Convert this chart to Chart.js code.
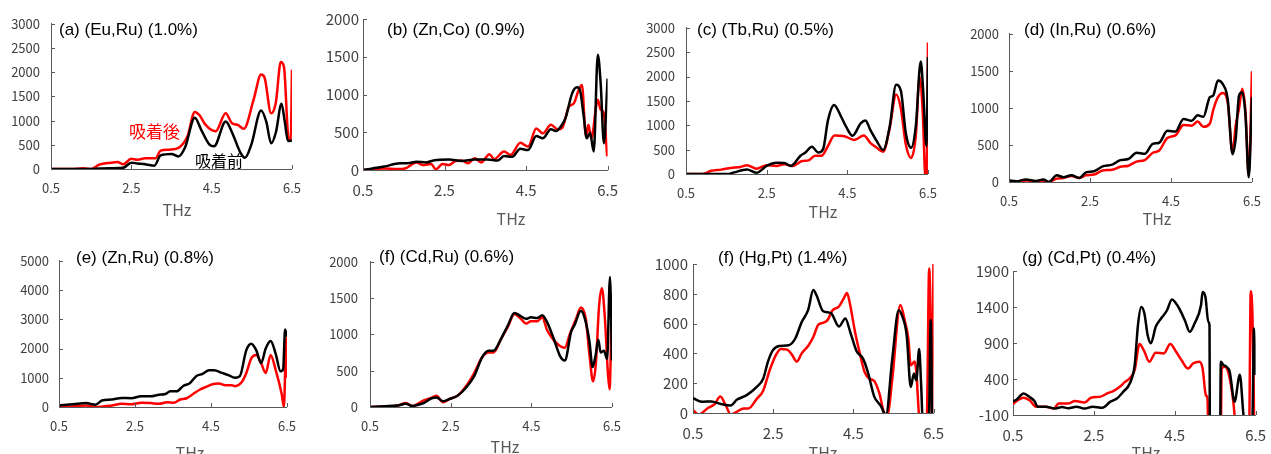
<!DOCTYPE html>
<html>
<head>
<meta charset="utf-8">
<script src="https://cdn.jsdelivr.net/npm/chart.js@4.4.1/dist/chart.umd.min.js"></script>
<style>
    body { margin: 0; background: #fff; width: 1271px; height: 454px; overflow: hidden; position: relative; }
    canvas { position: absolute; }
    .lbl { position: absolute; white-space: nowrap; line-height: 1; transform: translateY(-50%); }
    .title { font-family: "Liberation Sans", Arial, sans-serif; font-size: 17px; color: #000; }
    .thz { font-family: "Noto Sans CJK JP", sans-serif; font-size: 16px; color: #595959; transform: translate(-50%, -50%); }
    .note { font-family: "Noto Sans CJK JP", sans-serif; }
</style>
</head>
<body>
<script>
// x axis (THz) ticks shared by every panel
const xTicks = [0.5, 2.5, 4.5, 6.5];

const titles = ['(a) (Eu,Ru) (1.0%)', '(b) (Zn,Co) (0.9%)', '(c) (Tb,Ru) (0.5%)', '(d) (In,Ru) (0.6%)',
    '(e) (Zn,Ru) (0.8%)', '(f) (Cd,Ru) (0.6%)', '(f) (Hg,Pt) (1.4%)', '(g) (Cd,Pt) (0.4%)'];

const yTicksA = [0, 500, 1000, 1500, 2000, 2500, 3000];
const yTicksB = [0, 500, 1000, 1500, 2000];
const yTicksE = [0, 1000, 2000, 3000, 4000, 5000];
const yTicksG = [0, 200, 400, 600, 800, 1000];
const yTicksH = [-100, 400, 900, 1400, 1900];

// [THz, value]  before = 吸着前 (black), after = 吸着後 (red)
const euRuBefore = [[0.5,0],[1.5,0],[1.7,10],[2.0,15],[2.3,25],[2.5,130],[2.65,115],[2.87,95],[3.07,65],[3.23,280],[3.5,310],[3.67,260],[3.84,450],[4.08,1060],[4.24,810],[4.44,510],[4.56,470],[4.85,980],[5.01,750],[5.21,350],[5.33,230],[5.49,510],[5.73,1210],[5.86,980],[5.98,530],[6.1,760],[6.24,1350],[6.32,980],[6.4,580],[6.5,590]];
const euRuAfter = [[0.5,0],[1.0,0],[1.3,15],[1.5,0],[1.7,90],[2.0,130],[2.15,145],[2.3,100],[2.5,210],[2.65,190],[2.85,220],[3.1,220],[3.23,380],[3.45,400],[3.7,450],[3.9,680],[4.08,1180],[4.2,1110],[4.35,910],[4.6,780],[4.85,1150],[5.0,950],[5.15,910],[5.3,830],[5.55,1450],[5.73,1950],[5.82,1880],[5.98,1150],[6.1,1380],[6.22,2210],[6.3,2110],[6.42,610],[6.47,620],[6.5,2050]];

const znCoBefore = [[0.5,0],[1.02,45],[1.41,90],[1.6,90],[1.81,110],[2.05,100],[2.25,130],[2.61,140],[2.92,120],[3.24,140],[3.56,140],[3.8,125],[3.96,185],[4.16,175],[4.36,280],[4.55,265],[4.75,450],[4.91,420],[5.11,540],[5.23,515],[5.35,575],[5.47,690],[5.63,1015],[5.75,1095],[5.83,1040],[5.91,730],[5.99,420],[6.07,495],[6.16,245],[6.26,1525],[6.33,1150],[6.41,355],[6.5,1210]];
const znCoAfter = [[0.5,0],[1.02,20],[1.33,13],[1.53,20],[1.81,100],[1.97,65],[2.17,80],[2.29,10],[2.45,80],[2.61,65],[2.77,120],[2.92,125],[3.08,90],[3.24,155],[3.4,100],[3.6,210],[3.72,145],[3.96,245],[4.12,200],[4.36,360],[4.55,310],[4.75,550],[4.91,485],[5.11,600],[5.27,540],[5.39,560],[5.55,840],[5.67,880],[5.79,1060],[5.87,1125],[5.97,450],[6.03,600],[6.1,420],[6.26,930],[6.33,800],[6.41,750],[6.49,180]];

const tbRuBefore = [[0.5,0],[1.53,0],[1.69,33],[2.01,90],[2.25,25],[2.5,165],[2.74,230],[2.94,225],[3.1,165],[3.34,375],[3.46,440],[3.62,560],[3.78,440],[3.9,510],[4.02,1100],[4.17,1415],[4.35,1170],[4.47,970],[4.63,785],[4.83,1040],[4.95,1100],[5.07,905],[5.23,675],[5.39,495],[5.55,970],[5.71,1830],[5.83,1700],[5.95,840],[6.08,540],[6.2,1000],[6.32,2310],[6.38,1730],[6.46,575],[6.5,2400]];
const tbRuAfter = [[0.5,0],[0.9,0],[1.13,65],[1.37,90],[1.61,125],[1.85,145],[2.01,180],[2.25,110],[2.5,180],[2.74,165],[2.94,200],[3.14,165],[3.38,265],[3.54,280],[3.7,375],[3.86,375],[4.02,575],[4.18,790],[4.43,775],[4.67,700],[4.91,790],[5.07,640],[5.23,540],[5.39,455],[5.55,940],[5.71,1630],[5.83,1335],[5.95,610],[6.08,330],[6.2,805],[6.29,1995],[6.37,1270],[6.44,-100],[6.47,-100],[6.5,2700]];

const inRuBefore = [[0.5,20],[0.68,10],[0.92,35],[1.16,15],[1.36,35],[1.48,0],[1.68,90],[1.84,65],[2.04,90],[2.24,55],[2.4,130],[2.6,145],[2.81,210],[3.05,235],[3.25,295],[3.45,310],[3.65,395],[3.85,380],[4.05,515],[4.21,530],[4.41,690],[4.61,680],[4.81,850],[5.01,825],[5.16,900],[5.3,880],[5.46,1145],[5.54,1165],[5.66,1370],[5.78,1320],[5.9,1120],[6.02,375],[6.1,595],[6.18,1165],[6.26,1210],[6.34,900],[6.42,65],[6.5,1145]];
const inRuAfter = [[0.5,20],[0.68,0],[0.92,20],[1.16,10],[1.48,0],[1.68,45],[1.84,55],[2.04,80],[2.24,55],[2.4,90],[2.6,100],[2.81,155],[3.05,165],[3.25,205],[3.45,220],[3.65,275],[3.85,295],[4.05,395],[4.21,425],[4.41,595],[4.61,630],[4.81,770],[5.01,760],[5.16,815],[5.3,745],[5.46,790],[5.54,965],[5.66,1145],[5.78,1200],[5.9,1075],[6.02,395],[6.1,770],[6.18,990],[6.26,1260],[6.34,945],[6.42,90],[6.5,1495]];

const znRuBefore = [[0.5,55],[0.87,90],[1.21,135],[1.46,80],[1.63,220],[1.89,255],[2.15,310],[2.4,300],[2.66,365],[2.91,365],[3.13,420],[3.3,445],[3.43,535],[3.6,535],[3.77,720],[3.94,810],[4.11,1055],[4.28,1135],[4.45,1255],[4.58,1255],[4.79,1165],[4.96,1090],[5.13,1000],[5.26,1055],[5.43,1945],[5.56,2165],[5.69,1945],[5.82,1500],[5.94,2000],[6.07,2255],[6.2,1835],[6.33,1220],[6.4,1300],[6.45,2650],[6.5,2400]];
const znRuAfter = [[0.5,0],[0.87,20],[1.21,55],[1.46,0],[1.89,55],[2.15,110],[2.4,90],[2.66,145],[2.91,135],[3.13,110],[3.35,165],[3.52,145],[3.69,255],[3.86,300],[4.03,445],[4.2,590],[4.37,690],[4.54,780],[4.71,800],[4.88,745],[5.05,745],[5.13,710],[5.3,835],[5.43,1165],[5.56,1665],[5.69,1780],[5.82,1500],[5.94,1165],[6.07,1780],[6.2,1280],[6.36,450],[6.42,0],[6.48,2350],[6.5,1000]];

const cdRuBefore = [[0.5,0],[0.86,10],[1.18,20],[1.39,45],[1.55,15],[1.83,55],[2.03,120],[2.15,130],[2.31,80],[2.47,110],[2.67,155],[2.88,265],[3.08,420],[3.28,685],[3.44,775],[3.56,775],[3.76,950],[3.92,1125],[4.08,1295],[4.24,1250],[4.37,1215],[4.49,1235],[4.65,1225],[4.77,1265],[4.89,1170],[5.05,950],[5.21,705],[5.33,640],[5.49,1040],[5.57,1125],[5.73,1325],[5.85,1170],[5.94,905],[6.02,550],[6.1,730],[6.16,925],[6.22,750],[6.3,775],[6.38,660],[6.45,1790],[6.5,640]];
const cdRuAfter = [[0.5,0],[1.18,20],[1.39,55],[1.55,15],[1.83,90],[2.03,130],[2.15,155],[2.31,65],[2.47,110],[2.67,155],[2.88,285],[3.08,465],[3.28,685],[3.44,750],[3.56,750],[3.76,950],[3.92,1105],[4.08,1280],[4.24,1215],[4.37,1150],[4.49,1180],[4.65,1180],[4.77,1235],[4.89,1060],[5.05,925],[5.21,840],[5.33,815],[5.45,995],[5.61,1215],[5.73,1370],[5.85,1215],[5.94,730],[6.03,355],[6.1,595],[6.18,1390],[6.25,1635],[6.32,1260],[6.4,465],[6.44,245],[6.5,1545]];

const hgPtBefore = [[0.5,100],[0.72,75],[0.96,78],[1.2,60],[1.44,50],[1.6,90],[1.84,120],[2.09,175],[2.25,230],[2.37,345],[2.49,420],[2.65,450],[2.89,455],[3.05,500],[3.21,610],[3.37,690],[3.5,825],[3.58,790],[3.74,685],[3.94,670],[4.14,580],[4.3,635],[4.42,545],[4.58,415],[4.74,365],[4.86,275],[5.02,110],[5.18,50],[5.31,-15],[5.47,365],[5.63,690],[5.71,655],[5.83,520],[5.93,175],[6.01,265],[6.07,220],[6.14,430],[6.19,185],[6.23,-50],[6.38,-50],[6.43,625],[6.47,-50],[6.5,-50]];
const hgPtAfter = [[0.5,20],[0.64,-10],[0.88,35],[1.04,60],[1.18,110],[1.32,50],[1.44,-10],[1.6,10],[1.76,30],[1.88,30],[2.09,95],[2.25,150],[2.41,285],[2.57,390],[2.69,430],[2.85,425],[2.97,390],[3.09,345],[3.21,400],[3.37,450],[3.5,510],[3.62,590],[3.74,605],[3.86,625],[3.98,690],[4.14,715],[4.26,770],[4.34,805],[4.42,725],[4.54,545],[4.66,400],[4.78,275],[4.9,230],[5.02,215],[5.15,130],[5.27,0],[5.35,-10],[5.47,230],[5.67,725],[5.79,610],[5.87,500],[5.93,320],[6.03,345],[6.07,275],[6.15,-30],[6.33,-30],[6.39,970],[6.43,590],[6.46,-30],[6.5,1100]];

const cdPtBefore = [[0.5,85],[0.6,120],[0.76,200],[0.92,145],[1.03,95],[1.11,15],[1.31,15],[1.55,-10],[1.71,10],[1.87,-5],[2.07,15],[2.27,-10],[2.47,15],[2.71,0],[2.91,85],[3.07,130],[3.23,225],[3.39,340],[3.51,595],[3.59,1145],[3.67,1400],[3.75,1310],[3.83,1010],[3.91,895],[4.03,1125],[4.19,1260],[4.31,1355],[4.43,1505],[4.59,1400],[4.75,1215],[4.87,1055],[4.99,1170],[5.15,1425],[5.19,1610],[5.26,1540],[5.33,1195],[5.36,1145],[5.37,-500],[5.62,-500],[5.64,640],[5.7,595],[5.78,570],[5.86,500],[5.98,85],[6.11,460],[6.22,-150],[6.42,-150],[6.46,1100],[6.5,455]];
const cdPtAfter = [[0.5,50],[0.6,100],[0.76,140],[0.92,100],[1.07,15],[1.31,15],[1.51,-10],[1.63,60],[1.87,60],[2.03,95],[2.27,75],[2.43,140],[2.67,155],[2.83,200],[2.99,235],[3.15,295],[3.27,360],[3.39,410],[3.51,525],[3.63,885],[3.75,780],[3.87,640],[4.03,765],[4.23,755],[4.39,885],[4.51,800],[4.67,660],[4.83,545],[4.95,615],[5.11,640],[5.19,545],[5.27,175],[5.31,130],[5.33,-300],[5.64,-300],[5.66,545],[5.74,570],[5.86,410],[5.98,-100],[6.0,-300],[6.34,-300],[6.38,1620],[6.42,1330],[6.48,-300],[6.5,-300]];

// layout of each panel in page pixels
const panels = [
    { before: euRuBefore, after: euRuAfter, yTicks: yTicksA, x0: 51, x1: 298, top: 19, bot: 169, font: 13, gap: 11, title: [59, 29], thz: [177, 209] },
    { before: znCoBefore, after: znCoAfter, yTicks: yTicksB, x0: 363, x1: 615, top: 19, bot: 170, font: 15, gap: 4, title: [387, 29], thz: [511, 218] },
    { before: tbRuBefore, after: tbRuAfter, yTicks: yTicksA, x0: 686, x1: 934, top: 23, bot: 174, font: 13, gap: 11, title: [697, 29], thz: [823, 211] },
    { before: inRuBefore, after: inRuAfter, yTicks: yTicksB, x0: 1009, x1: 1258, top: 30, bot: 182, font: 13, gap: 10, title: [1024, 29], thz: [1157, 218] },
    { before: znRuBefore, after: znRuAfter, yTicks: yTicksE, x0: 59, x1: 293, top: 257, bot: 407, font: 13, gap: 10, title: [76, 257], thz: [190, 452] },
    { before: cdRuBefore, after: cdRuAfter, yTicks: yTicksB, x0: 370, x1: 618, top: 256, bot: 407, font: 13, gap: 12, title: [379, 256], thz: [505, 446] },
    { before: hgPtBefore, after: hgPtAfter, yTicks: yTicksG, x0: 693, x1: 941, top: 264, bot: 413, font: 15, gap: 5, title: [718, 257], thz: [823, 452] },
    { before: cdPtBefore, after: cdPtAfter, yTicks: yTicksH, x0: 1013, x1: 1263, top: 271, bot: 415, font: 15, gap: 4, title: [1022, 257], thz: [1146, 452] }
];

const LEFT = 60, RIGHT = 14, TOP = 14, BOTTOM = 32;
const axisColor = '#595959';

// small tick marks drawn inside the plot, like the original
const insideTicks = {
    id: 'insideTicks',
    afterDraw(chart) {
        const ctx = chart.ctx;
        const { left, bottom } = chart.chartArea;
        ctx.save();
        ctx.strokeStyle = axisColor;
        ctx.lineWidth = 1;
        ctx.beginPath();
        chart.scales.y.ticks.forEach(t => {
            const y = Math.round(chart.scales.y.getPixelForValue(t.value)) + 0.5;
            ctx.moveTo(left, y);
            ctx.lineTo(left + 4, y);
        });
        chart.scales.x.ticks.forEach(t => {
            const x = Math.round(chart.scales.x.getPixelForValue(t.value)) + 0.5;
            ctx.moveTo(x, bottom);
            ctx.lineTo(x, bottom - 4);
        });
        ctx.stroke();
        ctx.restore();
    }
};

function addText(text, x, y, cls, color, size) {
    const d = document.createElement('div');
    d.className = 'lbl ' + cls;
    d.textContent = text;
    d.style.left = x + 'px';
    d.style.top = y + 'px';
    if (color) d.style.color = color;
    if (size) d.style.fontSize = size + 'px';
    document.body.appendChild(d);
}

function toPoints(arr) {
    return arr.map(p => ({ x: p[0], y: p[1] }));
}

panels.forEach((p, i) => {
    const canvas = document.createElement('canvas');
    const w = (p.x1 - p.x0) + LEFT + RIGHT;
    const h = (p.bot - p.top) + TOP + BOTTOM;
    canvas.width = w;
    canvas.height = h;
    canvas.style.left = (p.x0 - LEFT) + 'px';
    canvas.style.top = (p.top - TOP) + 'px';
    canvas.style.width = w + 'px';
    canvas.style.height = h + 'px';
    document.body.appendChild(canvas);

    const tickFont = { family: '"Noto Sans CJK JP", sans-serif', size: p.font };

    new Chart(canvas.getContext('2d'), {
        type: 'line',
        data: {
            datasets: [
                { label: '吸着前', data: toPoints(p.before), borderColor: '#000000', borderWidth: 2.5 },
                { label: '吸着後', data: toPoints(p.after), borderColor: '#ff0000', borderWidth: 2.5 }
            ]
        },
        options: {
            responsive: false,
            animation: false,
            layout: { padding: { left: 0, right: RIGHT, top: TOP, bottom: 0 } },
            elements: {
                point: { radius: 0 },
                line: { cubicInterpolationMode: 'monotone' }
            },
            plugins: {
                legend: { display: false },
                tooltip: { enabled: false }
            },
            scales: {
                x: {
                    type: 'linear',
                    min: xTicks[0],
                    max: xTicks[xTicks.length - 1],
                    afterBuildTicks: s => { s.ticks = xTicks.map(v => ({ value: v })); },
                    afterFit: s => { s.height = BOTTOM; },
                    grid: { display: false, drawTicks: false },
                    border: { display: true, color: axisColor, width: 1 },
                    ticks: { padding: 11, color: '#404040', font: tickFont, maxRotation: 0, callback: v => Number(v).toFixed(1) }
                },
                y: {
                    min: p.yTicks[0],
                    max: p.yTicks[p.yTicks.length - 1],
                    afterBuildTicks: s => { s.ticks = p.yTicks.map(v => ({ value: v })); },
                    afterFit: s => { s.width = LEFT; },
                    grid: { display: false, drawTicks: false },
                    border: { display: true, color: axisColor, width: 1 },
                    ticks: { padding: p.gap, color: '#404040', font: tickFont, callback: v => String(v) }
                }
            }
        },
        plugins: [insideTicks]
    });

    addText(titles[i], p.title[0], p.title[1], 'title');
    addText('THz', p.thz[0], p.thz[1], 'thz');
});

// annotations of panel (a)
addText('吸着後', 129, 130, 'note', '#ff0000', 17);
addText('吸着前', 195, 160, 'note', '#000000', 16);
</script>
</body>
</html>
